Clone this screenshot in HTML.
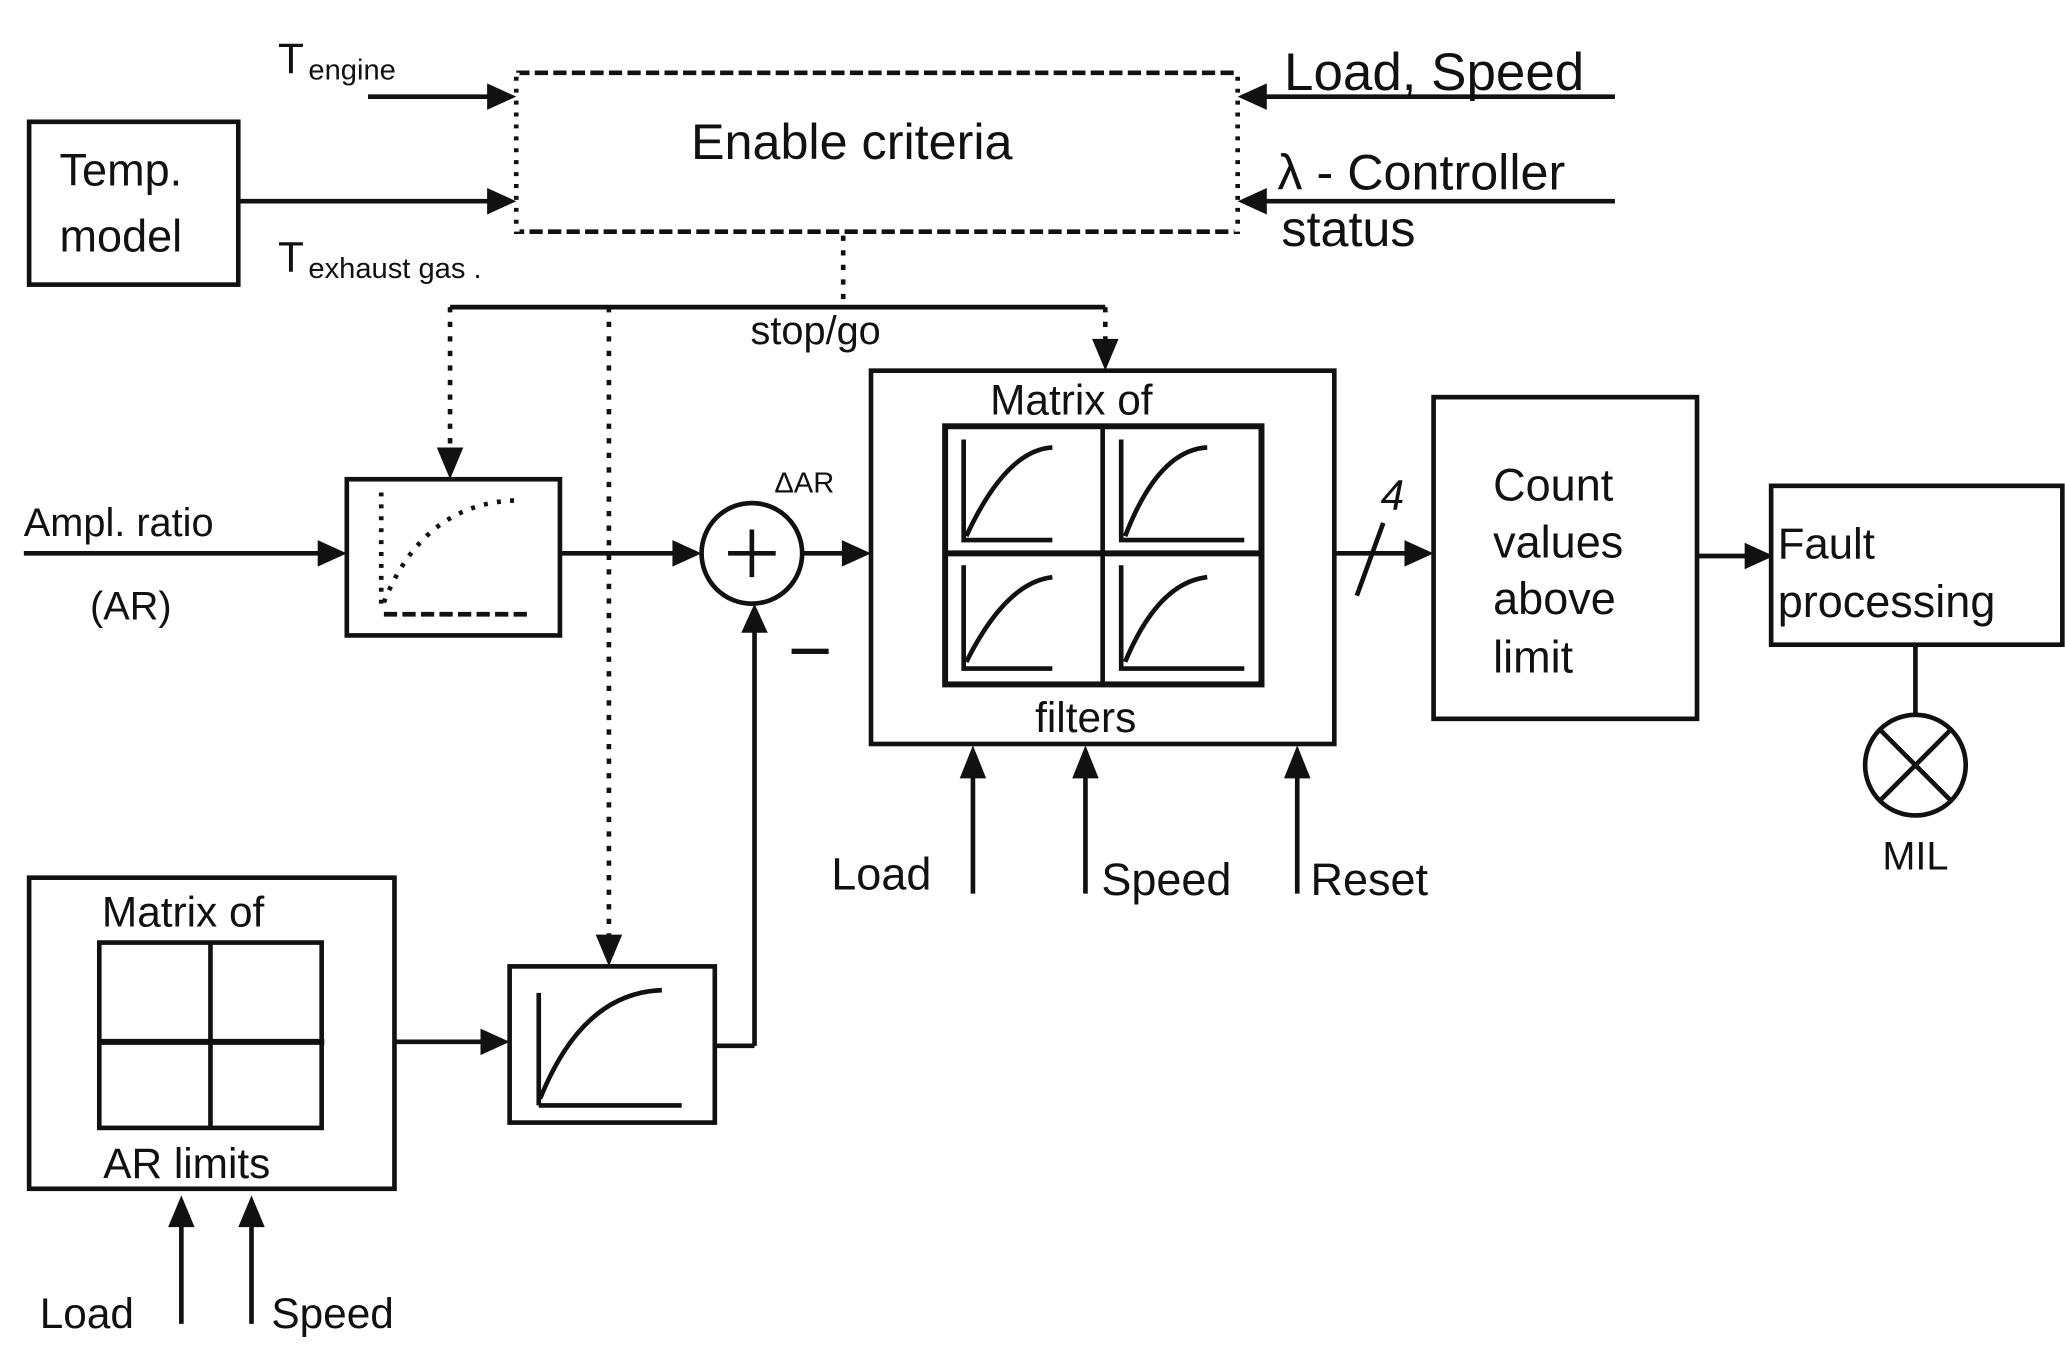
<!DOCTYPE html>
<html><head><meta charset="utf-8"><style>
html,body{margin:0;padding:0;background:#fff;}
svg{display:block;}
text{font-family:"Liberation Sans",sans-serif;fill:#111;}
</style></head><body>
<svg width="2065" height="1345" viewBox="0 0 1560 1016" preserveAspectRatio="none" xmlns="http://www.w3.org/2000/svg">
<g stroke="#111" stroke-width="3.5" fill="none">
<rect x="390" y="55" width="545" height="120" stroke-dasharray="10,4"/>
<line x1="390" y1="55" x2="390" y2="175" stroke="#fff" stroke-width="5"/>
<line x1="390" y1="58" x2="390" y2="172" stroke-dasharray="3,6"/>
<line x1="935" y1="55" x2="935" y2="175" stroke="#fff" stroke-width="5"/>
<line x1="935" y1="58" x2="935" y2="172" stroke-dasharray="3,6"/>
<rect x="22" y="92" width="158" height="123"/>
<line x1="278" y1="73" x2="372" y2="73"/>
<line x1="180" y1="152" x2="372" y2="152"/>
<line x1="953" y1="73" x2="1220" y2="73"/>
<line x1="953" y1="152" x2="1220" y2="152"/>
<g stroke-dasharray="4,7">
<line x1="637" y1="178" x2="637" y2="232"/>
<line x1="340" y1="232" x2="835" y2="232" stroke-dasharray="none"/>
<line x1="340" y1="232" x2="340" y2="340"/>
<line x1="460" y1="232" x2="460" y2="708"/>
<line x1="835" y1="232" x2="835" y2="258"/>
</g>
<rect x="262" y="362" width="161" height="118"/>
<line x1="288" y1="372" x2="288" y2="458" stroke-dasharray="3,6"/>
<path d="M290 455 Q320 380 390 378" stroke-dasharray="3,7"/>
<line x1="290" y1="464" x2="400" y2="464" stroke-dasharray="10,4"/>
<line x1="18" y1="418" x2="244" y2="418"/>
<line x1="423" y1="418" x2="512" y2="418"/>
<circle cx="568" cy="418" r="38"/>
<line x1="550" y1="418" x2="586" y2="418"/>
<line x1="568" y1="400" x2="568" y2="436"/>
<line x1="606" y1="418" x2="642" y2="418"/>
<line x1="540" y1="790" x2="570" y2="790"/>
<line x1="570" y1="790" x2="570" y2="474"/>
<rect x="385" y="730" width="155" height="118"/>
<line x1="407" y1="750" x2="407" y2="835"/>
<line x1="407" y1="835" x2="515" y2="835"/>
<path d="M408 830 Q440 750 500 748"/>
<rect x="22" y="663" width="276" height="235"/>
<rect x="75" y="712" width="168" height="140"/>
<line x1="75" y1="787" x2="245" y2="787" stroke-width="4.5"/>
<line x1="159" y1="712" x2="159" y2="852"/>
<line x1="298" y1="787" x2="368" y2="787"/>
<line x1="137" y1="1000" x2="137" y2="925"/>
<line x1="190" y1="1000" x2="190" y2="925"/>
<rect x="658" y="280" width="350" height="282"/>
<rect x="714" y="322" width="239" height="195" stroke-width="4.5"/>
<line x1="714" y1="418" x2="953" y2="418" stroke-width="4.5"/>
<line x1="833" y1="322" x2="833" y2="517"/>
<g>
<path d="M728 332 V408 H795"/><path d="M730 405 Q760 340 795 338"/>
<path d="M847 332 V408 H940"/><path d="M850 405 Q875 340 912 338"/>
<path d="M728 427 V505 H795"/><path d="M730 500 Q760 440 795 436"/>
<path d="M847 427 V505 H940"/><path d="M850 500 Q875 440 912 436"/>
</g>
<line x1="735" y1="675" x2="735" y2="585"/>
<line x1="820" y1="675" x2="820" y2="585"/>
<line x1="980" y1="675" x2="980" y2="585"/>
<line x1="1008" y1="418" x2="1065" y2="418"/>
<line x1="1045" y1="395" x2="1025" y2="450"/>
<rect x="1083" y="300" width="199" height="243"/>
<line x1="1282" y1="420" x2="1322" y2="420"/>
<rect x="1338" y="367" width="220" height="120"/>
<line x1="1447" y1="487" x2="1447" y2="540"/>
<circle cx="1447" cy="578" r="38"/>
<line x1="1420" y1="551" x2="1474" y2="605"/>
<line x1="1474" y1="551" x2="1420" y2="605"/>
</g>
<g fill="#111">
<polygon points="390,73 368,63 368,83"/>
<polygon points="390,152 368,142 368,162"/>
<polygon points="935,73 957,63 957,83"/>
<polygon points="935,152 957,142 957,162"/>
<polygon points="340,362 330,338 350,338"/>
<polygon points="460,730 450,706 470,706"/>
<polygon points="835,280 825,256 845,256"/>
<polygon points="262,418 240,408 240,428"/>
<polygon points="530,418 508,408 508,428"/>
<polygon points="658,418 636,408 636,428"/>
<polygon points="570,456 560,478 580,478"/>
<polygon points="385,787 363,777 363,797"/>
<polygon points="137,903 127,927 147,927"/>
<polygon points="190,903 180,927 200,927"/>
<polygon points="735,563 725,588 745,588"/>
<polygon points="820,563 810,588 830,588"/>
<polygon points="980,563 970,588 990,588"/>
<polygon points="1083,418 1061,408 1061,428"/>
<polygon points="1340,420 1318,410 1318,430"/>
<rect x="598" y="490" width="28" height="4"/>
</g>
<g font-size="34">
<text x="522" y="120" font-size="38">Enable criteria</text>
<text x="210" y="55" font-size="32">T</text><text x="233" y="60" font-size="22">engine</text>
<text x="210" y="205" font-size="32">T</text><text x="233" y="210" font-size="22">exhaust gas .</text>
<text x="45" y="140">Temp.</text>
<text x="45" y="190">model</text>
<text x="970" y="68" font-size="40">Load, Speed</text>
<text x="965" y="143" font-size="38">λ - Controller</text>
<text x="968" y="186" font-size="38">status</text>
<text x="567" y="260" font-size="30">stop/go</text>
<text x="18" y="405" font-size="30">Ampl. ratio</text>
<text x="68" y="468" font-size="30">(AR)</text>
<text x="585" y="372" font-size="22">ΔAR</text>
<text x="748" y="313" font-size="32">Matrix of</text>
<text x="782" y="553" font-size="32">filters</text>
<text x="77" y="700" font-size="32">Matrix of</text>
<text x="78" y="890" font-size="32">AR limits</text>
<text x="30" y="1003" font-size="32">Load</text>
<text x="205" y="1003" font-size="32">Speed</text>
<text x="628" y="672" font-size="34">Load</text>
<text x="832" y="676" font-size="34">Speed</text>
<text x="990" y="676" font-size="34">Reset</text>
<text x="1043" y="385" font-size="32" font-style="italic">4</text>
<text x="1128" y="378">Count</text>
<text x="1128" y="421">values</text>
<text x="1128" y="464">above</text>
<text x="1128" y="508">limit</text>
<text x="1343" y="422" font-size="33">Fault</text>
<text x="1343" y="466" font-size="34">processing</text>
<text x="1422" y="657" font-size="30">MIL</text>
</g>
</svg>
</body></html>
